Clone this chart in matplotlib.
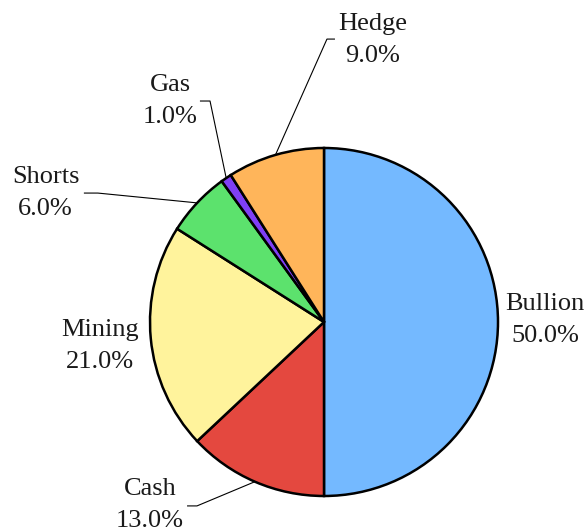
import matplotlib
matplotlib.use("Agg")
import matplotlib.pyplot as plt
import numpy as np

# pie data (clockwise from 12 o'clock)
labels = ["Bullion", "Cash", "Mining", "Shorts", "Gas", "Hedge"]
shares = [50.0, 13.0, 21.0, 6.0, 1.0, 9.0]
colors = ["#74b9ff", "#e4483f", "#fff39c", "#5ce26d", "#7f3ff5", "#ffb55a"]

# label layout (data units, radius = 1): text centre, and for leader lines the elbow + end
text_pos = {
    "Bullion": (1.27, 0.01),
    "Cash": (-1.00, -1.05),
    "Mining": (-1.29, -0.14),
    "Shorts": (-1.60, 0.74),
    "Gas": (-0.885, 1.27),
    "Hedge": (0.28, 1.62),
}
leaders = {
    "Cash": [(-0.73, -1.057), (-0.787, -1.057)],
    "Shorts": [(-1.30, 0.741), (-1.38, 0.741)],
    "Gas": [(-0.655, 1.27), (-0.713, 1.27)],
    "Hedge": [(0.017, 1.626), (0.063, 1.626)],
}

plt.rcParams['font.family'] = ['Liberation Serif', 'DejaVu Serif']

fig = plt.figure(figsize=(5.87, 5.31), dpi=100)
ax = fig.add_axes([0, 0, 1, 1])

wedges, _ = ax.pie(shares, colors=colors, startangle=90, counterclock=False,
                   radius=1.0, wedgeprops=dict(edgecolor="black", linewidth=1.8))

# mid angles of wedges for leader line anchors
total = sum(shares)
cum = np.cumsum([0] + shares)
for i, name in enumerate(labels):
    mid = 90 - 360 * (cum[i] + shares[i] / 2) / total
    ax_pt = (np.cos(np.radians(mid)), np.sin(np.radians(mid)))
    if name in leaders:
        pts = [ax_pt] + leaders[name]
        xs, ys = zip(*pts)
        ax.plot(xs, ys, color="black", lw=0.8, solid_capstyle="butt")
    tx, ty = text_pos[name]
    ax.text(tx, ty, "%s\n%.1f%%" % (name, shares[i]), ha="center", va="center",
            fontsize=19, color="#1a1a1a", linespacing=1.6)

ax.set_aspect("auto")
ax.set_xlim(-324 / 174, (587 - 324) / 174)
ax.set_ylim(-(531 - 322) / 174, 322 / 174)
ax.axis("off")

fig.savefig("out.png", dpi=100)
